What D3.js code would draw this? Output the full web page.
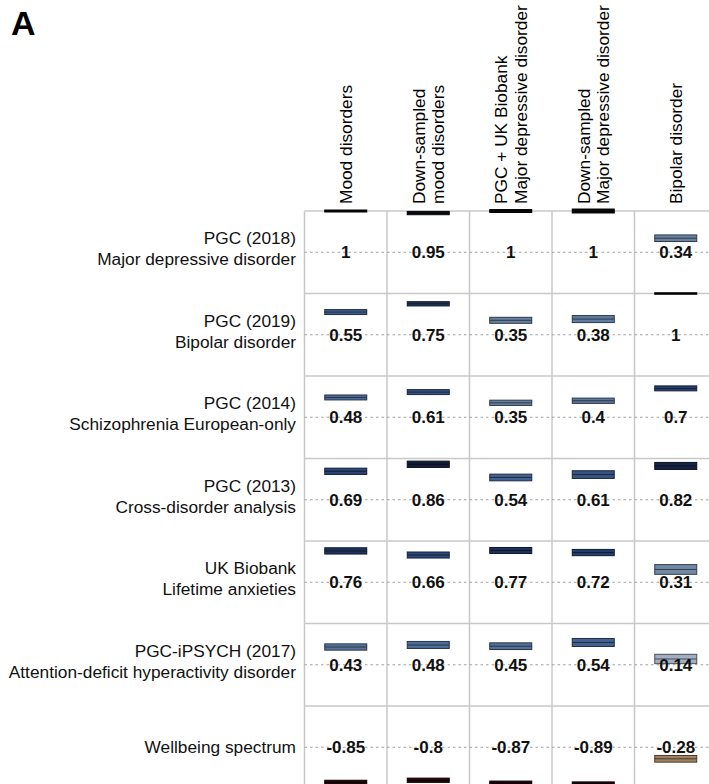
<!DOCTYPE html>
<html>
<head>
<meta charset="utf-8">
<script src="https://cdn.jsdelivr.net/npm/d3@7"></script>
<style>
  html, body { margin: 0; padding: 0; background: #fff; }
  svg { display: block; font-family: "Liberation Sans", Arial, sans-serif; }
</style>
</head>
<body>
<svg id="chart" width="709" height="784"></svg>
<script>
// Column traits (header lines) and row traits (label lines)
const columns = [
  ["Mood disorders"],
  ["Down-sampled", "mood disorders"],
  ["PGC + UK Biobank", "Major depressive disorder"],
  ["Down-sampled", "Major depressive disorder"],
  ["Bipolar disorder"]
];
const rows = [
  ["PGC (2018)", "Major depressive disorder"],
  ["PGC (2019)", "Bipolar disorder"],
  ["PGC (2014)", "Schizophrenia European-only"],
  ["PGC (2013)", "Cross-disorder analysis"],
  ["UK Biobank", "Lifetime anxieties"],
  ["PGC-iPSYCH (2017)", "Attention-deficit hyperactivity disorder"],
  ["Wellbeing spectrum"]
];

// Genetic correlations, one array per row trait (columns in order)
const rgMDD2018   = [1, 0.95, 1, 1, 0.34];
const rgBIP2019   = [0.55, 0.75, 0.35, 0.38, 1];
const rgSCZ2014   = [0.48, 0.61, 0.35, 0.4, 0.7];
const rgCross2013 = [0.69, 0.86, 0.54, 0.61, 0.82];
const rgAnxiety   = [0.76, 0.66, 0.77, 0.72, 0.31];
const rgADHD2017  = [0.43, 0.48, 0.45, 0.54, 0.14];
const rgWellbeing = [-0.85, -0.8, -0.87, -0.89, -0.28];

// Standard errors of the correlations
const seMDD2018   = [0.024, 0.04, 0.036, 0.048, 0.08];
const seBIP2019   = [0.06, 0.052, 0.073, 0.085, 0.018];
const seSCZ2014   = [0.06, 0.06, 0.064, 0.064, 0.06];
const seCross2013 = [0.076, 0.076, 0.081, 0.093, 0.085];
const seAnxiety   = [0.076, 0.073, 0.073, 0.076, 0.118];
const seADHD2017  = [0.076, 0.085, 0.081, 0.097, 0.113];
const seWellbeing = [0.05, 0.052, 0.05, 0.05, 0.081];

const rgRows = [rgMDD2018, rgBIP2019, rgSCZ2014, rgCross2013, rgAnxiety, rgADHD2017, rgWellbeing];
const seRows = [seMDD2018, seBIP2019, seSCZ2014, seCross2013, seAnxiety, seADHD2017, seWellbeing];

const cells = [];
rgRows.forEach((vals, r) => vals.forEach((v, c) => cells.push({ r, c, v, se: seRows[r][c] })));

const svg = d3.select("#chart");
const W = 709;

const x = d3.scaleBand().domain(d3.range(columns.length)).range([304.5, 304.5 + 82.5 * columns.length]);
const y = d3.scaleBand().domain(d3.range(rows.length)).range([211, 211 + 82.5 * rows.length]);
// Within a cell: correlation -1..1 mapped over the full row height
const inner = d3.scaleLinear().domain([-1, 1]).range([y.bandwidth(), 0]);

const color = d3.scaleLinear()
  .domain([-1, -0.7, -0.25, 0, 0.15, 0.35, 0.5, 0.7, 0.85, 1])
  .range(["#16020a", "#2a0a0a", "#a88a66", "#dddddd", "#9eacbe", "#66809f", "#4a6a98", "#284273", "#121d3a", "#080808"])
  .interpolate(d3.interpolateRgb);
const edge = v => d3.color(color(v)).darker(2.2);

// Panel letter
svg.append("text")
  .attr("x", 11).attr("y", 35)
  .attr("font-size", 34).attr("font-weight", "bold")
  .attr("fill", "#000")
  .text("A");

// Grid
const grid = svg.append("g").attr("stroke", "#c8c8c8").attr("stroke-width", 1.5);
d3.range(columns.length + 1).forEach(i => {
  const xx = x.range()[0] + i * x.bandwidth();
  grid.append("line").attr("x1", xx).attr("x2", xx).attr("y1", y.range()[0]).attr("y2", y.range()[1]);
});
d3.range(rows.length + 1).forEach(i => {
  const yy = y.range()[0] + i * y.bandwidth();
  grid.append("line").attr("x1", x.range()[0]).attr("x2", x.range()[1]).attr("y1", yy).attr("y2", yy);
});

// Zero reference lines (dashed)
svg.append("g").selectAll("line").data(rows).join("line")
  .attr("x1", x.range()[0]).attr("x2", W)
  .attr("y1", (d, i) => y(i) + inner(0)).attr("y2", (d, i) => y(i) + inner(0))
  .attr("stroke", "#a0a0a0").attr("stroke-width", 1).attr("stroke-dasharray", "2.5,3");

// Column headers (rotated)
const hdr = svg.append("g");
columns.forEach((lines, i) => {
  const cx = x(i) + x.bandwidth() / 2;
  const n = lines.length;
  lines.forEach((t, k) => {
    const off = (k - (n - 1) / 2) * 19.5;
    hdr.append("text")
      .attr("transform", `translate(${cx + off + 6},204) rotate(-90)`)
      .attr("font-size", 17.3).attr("fill", "#000")
      .attr("text-anchor", "start")
      .text(t);
  });
});

// Row labels
const lab = svg.append("g");
rows.forEach((lines, i) => {
  const cy = y(i) + inner(0);
  const n = lines.length;
  lines.forEach((t, k) => {
    const off = n === 1 ? 0 : (k === 0 ? -14 : 7);
    lab.append("text")
      .attr("x", 296).attr("y", cy + off).attr("dy", "0.36em")
      .attr("text-anchor", "end")
      .attr("font-size", 17.3).attr("fill", "#111")
      .text(t);
  });
});

// Correlation bars: band spans rg ± se, with a line at rg
const barW = 42;
const bars = svg.append("g").selectAll("g").data(cells).join("g")
  .attr("transform", d => `translate(${x(d.c) + x.bandwidth() / 2 - barW / 2},${y(d.r)})`);
bars.append("rect")
  .attr("x", 0).attr("width", barW)
  .attr("y", d => inner(d.v + d.se))
  .attr("height", d => inner(d.v - d.se) - inner(d.v + d.se))
  .attr("fill", d => color(d.v))
  .attr("stroke", d => edge(d.v))
  .attr("stroke-width", 1);
bars.append("line")
  .attr("x1", 0).attr("x2", barW)
  .attr("y1", d => inner(d.v)).attr("y2", d => inner(d.v))
  .attr("stroke", d => edge(d.v))
  .attr("stroke-width", 1);

// Value labels
svg.append("g").selectAll("text").data(cells).join("text")
  .attr("x", d => x(d.c) + x.bandwidth() / 2)
  .attr("y", d => y(d.r) + inner(0)).attr("dy", "0.36em")
  .attr("text-anchor", "middle")
  .attr("font-size", 17).attr("font-weight", "bold").attr("fill", "#111")
  .text(d => String(d.v));
</script>
</body>
</html>
